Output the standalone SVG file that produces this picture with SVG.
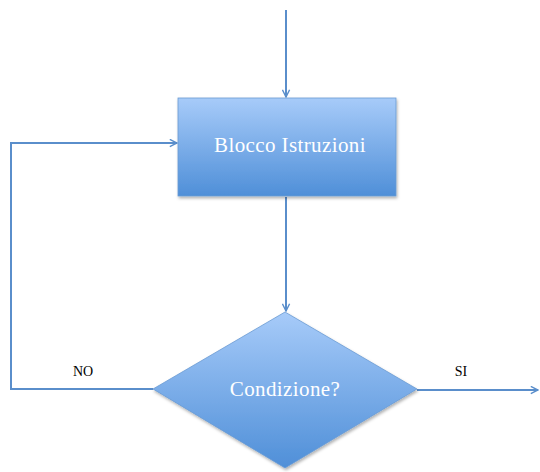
<svg xmlns="http://www.w3.org/2000/svg" width="540" height="472" viewBox="0 0 540 472">
  <defs>
    <linearGradient id="blueFill" x1="0" y1="0" x2="0" y2="1">
      <stop offset="0" stop-color="#a7cbf9"/>
      <stop offset="1" stop-color="#4f8fd8"/>
    </linearGradient>
    <filter id="shadow" x="-10%" y="-10%" width="130%" height="130%">
      <feDropShadow dx="1" dy="2" stdDeviation="1.5" flood-color="#000" flood-opacity="0.3"/>
    </filter>
    <marker id="arrow" viewBox="0 0 10 10" refX="9" refY="5" markerWidth="9" markerHeight="9" markerUnits="userSpaceOnUse" orient="auto">
      <path d="M1,1 L9,5 L1,9" fill="none" stroke="#5a8ecb" stroke-width="1.6"/>
    </marker>
    <style>
      .shape { fill: url(#blueFill); stroke: #6a9bd3; stroke-width: 0.8; filter: url(#shadow); }
      .label { font-family: "Liberation Serif", serif; fill: #ffffff; font-size: 21px; letter-spacing: 0.4px; text-anchor: middle; }
      .edge-label { font-family: "Liberation Serif", serif; fill: #000000; font-size: 14px; text-anchor: middle; }
      .conn { fill: none; stroke: #5a8ecb; stroke-width: 2; }
    </style>
  </defs>

  <g id="connectors">
    <path class="conn" d="M286,10 L286,97" marker-end="url(#arrow)"/>
    <path class="conn" d="M286,197 L286,311" marker-end="url(#arrow)"/>
    <path class="conn" d="M153,389 L11,389 L11,143 L177,143" marker-end="url(#arrow)"/>
    <path class="conn" d="M417,390 L538,390" marker-end="url(#arrow)"/>
    <text class="edge-label" x="83" y="376">NO</text>
    <text class="edge-label" x="461" y="376">SI</text>
  </g>

  <g id="blocco">
    <rect class="shape" x="178" y="98" width="218" height="98"/>
    <text class="label" x="290" y="152">Blocco Istruzioni</text>
  </g>

  <g id="condizione">
    <polygon class="shape" points="285,312 417,389 285,468 153,389"/>
    <text class="label" x="285" y="396">Condizione?</text>
  </g>
</svg>
